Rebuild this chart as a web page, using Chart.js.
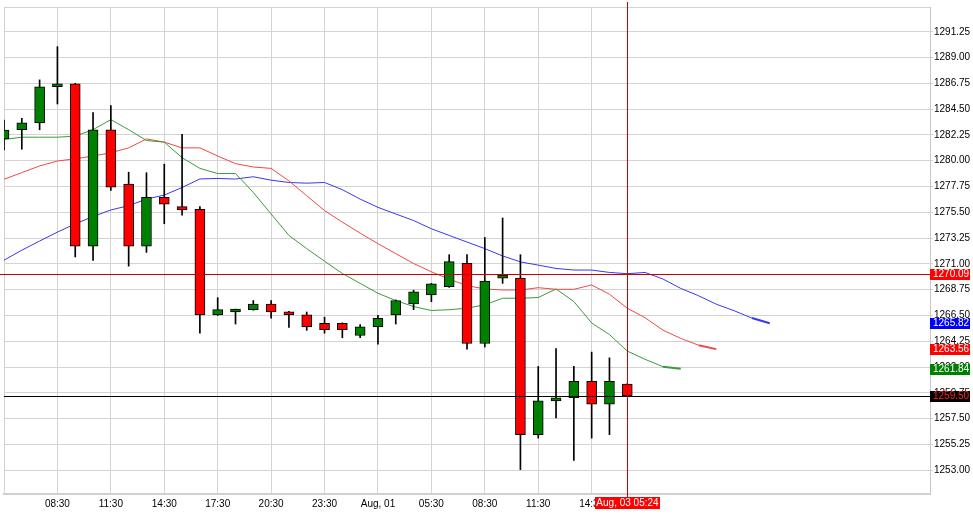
<!DOCTYPE html>
<html>
<head>
<meta charset="utf-8">
<script src="https://cdn.jsdelivr.net/npm/chart.js@4.4.0/dist/chart.umd.min.js"></script>
<style>
  html, body { margin: 0; padding: 0; background: #fff; }
  #wrap { width: 973px; height: 524px; }
</style>
</head>
<body>
<div id="wrap"><canvas id="chart" width="973" height="524"></canvas></div>
<script>
// hourly candles, then empty slots where the moving averages run ahead
const times = ['05:30', '06:30', '07:30', '08:30', '09:30', '10:30', '11:30', '12:30', '13:30', '14:30',
  '15:30', '16:30', '17:30', '18:30', '19:30', '20:30', '21:30', '22:30', '23:30', '00:30',
  '01:30', 'Aug, 01', '03:30', '04:30', '05:30', '06:30', '07:30', '08:30', '09:30', '10:30',
  '11:30', '12:30', '13:30', '14:30', '15:30', '16:30'];
const futureSlots = 17;

const opens = [1281.90, 1282.70, 1283.30, 1286.45, 1286.70, 1272.55, 1282.70, 1277.95, 1272.55, 1276.80,
  1276.00, 1275.75, 1266.55, 1266.80, 1267.00, 1267.50, 1266.80, 1266.55, 1265.80, 1265.80,
  1264.75, 1265.50, 1266.55, 1267.50, 1268.30, 1269.00, 1271.05, 1264.05, 1269.75, 1269.75,
  1256.10, 1259.05, 1259.30, 1260.75, 1258.75, 1260.50];
const highs = [1283.55, 1283.70, 1287.05, 1289.95, 1286.75, 1284.20, 1284.80, 1279.00, 1278.95, 1279.70,
  1282.30, 1276.00, 1268.05, 1267.05, 1267.80, 1267.80, 1266.85, 1266.80, 1266.35, 1265.85,
  1265.70, 1266.50, 1267.85, 1268.70, 1269.30, 1271.80, 1271.80, 1273.30, 1275.00, 1271.80,
  1262.05, 1263.60, 1262.05, 1263.30, 1262.80, 1260.55];
const lows = [1280.95, 1281.00, 1282.70, 1284.95, 1271.60, 1271.30, 1277.40, 1270.80, 1272.00, 1274.50,
  1275.25, 1264.95, 1266.50, 1265.75, 1266.95, 1266.25, 1265.45, 1265.20, 1264.95, 1264.55,
  1264.55, 1264.00, 1265.75, 1267.00, 1267.70, 1268.95, 1263.55, 1263.75, 1269.30, 1253.05,
  1255.80, 1257.55, 1253.85, 1255.80, 1256.10, 1259.50];
const closes = [1282.68, 1283.30, 1286.45, 1286.70, 1272.55, 1282.70, 1277.70, 1272.55, 1276.80, 1276.20,
  1275.70, 1266.55, 1267.00, 1267.00, 1267.50, 1266.80, 1266.55, 1265.50, 1265.25, 1265.25,
  1265.50, 1266.25, 1267.80, 1268.55, 1269.25, 1271.20, 1264.05, 1269.50, 1270.00, 1256.10,
  1259.05, 1259.30, 1260.75, 1258.75, 1260.75, 1259.50];

// moving averages (shifted forward past the last candle)
const maFast = [1281.85, 1282.05, 1282.05, 1282.05, 1282.14, 1282.71, 1283.58, 1282.71, 1281.76, 1281.62,
  1280.26, 1279.33, 1278.88, 1278.88, 1277.23, 1275.35, 1273.48, 1272.33, 1271.23, 1270.16,
  1269.30, 1268.43, 1267.80, 1267.28, 1266.93, 1267.00, 1267.13, 1267.43, 1268.00, 1268.00,
  1268.06, 1268.81, 1267.71, 1265.84, 1264.83, 1263.39, 1262.67, 1262.03, 1261.84];
const maMid = [1278.38, 1278.96, 1279.54, 1279.97, 1280.17, 1280.41, 1280.69, 1281.12, 1281.90, 1281.62,
  1281.12, 1281.12, 1280.41, 1279.74, 1279.45, 1279.33, 1278.24, 1276.94, 1275.65, 1274.64,
  1273.68, 1272.76, 1271.89, 1271.03, 1270.31, 1269.66, 1269.10, 1268.81, 1268.72, 1268.72,
  1268.92, 1268.78, 1268.78, 1269.16, 1268.35, 1267.13, 1266.30, 1265.22, 1264.50, 1263.90,
  1263.56];
const maSlow = [1271.32, 1272.19, 1272.99, 1273.77, 1274.49, 1275.13, 1275.70, 1276.08, 1276.65, 1277.00,
  1277.66, 1278.41, 1278.45, 1278.40, 1278.60, 1278.30, 1278.10, 1278.04, 1278.10, 1277.47,
  1276.65, 1275.93, 1275.35, 1274.78, 1274.06, 1273.48, 1272.90, 1272.33, 1271.69, 1271.17,
  1270.89, 1270.60, 1270.46, 1270.46, 1270.25, 1270.14, 1270.25, 1269.68, 1268.86, 1268.22,
  1267.48, 1266.91, 1266.27, 1265.82];

const priceTicks = [1253.00, 1255.25, 1257.50, 1259.75, 1262.00, 1264.25, 1266.50, 1268.75, 1271.00,
  1273.25, 1275.50, 1277.75, 1280.00, 1282.25, 1284.50, 1286.75, 1289.00, 1291.25];
const yMin = 1250.92;
const yMax = 1293.41;

const crossIndex = 35;
const crossPrice = 1270.09;
const crossLabel = 'Aug, 03 05:24';
const lastPrice = 1259.50;
const fastLast = 1261.84;
const midLast = 1263.56;
const slowLast = 1265.82;

const labels = times.concat(Array(futureSlots).fill(''));
const bodies = opens.map((o, i) => [o, closes[i]]);
const wicks = lows.map((l, i) => [l, highs[i]]);
const bodyColors = opens.map((o, i) => closes[i] >= o ? '#008000' : '#ff0000');

Chart.defaults.font.family = "'Liberation Sans', Arial, sans-serif";
Chart.defaults.font.size = 10;
Chart.defaults.color = '#000';

const gridGray = '#d3d3d3';

// the last segment of each average is drawn a bit heavier
function maLine(data, color) {
  return {
    type: 'line',
    data: data,
    borderColor: color,
    borderWidth: 1,
    pointRadius: 0,
    tension: 0,
    order: 5,
    segment: {
      borderWidth: ctx => ctx.p1DataIndex === data.length - 1 ? 2 : 1
    }
  };
}

const markers = {
  id: 'markers',
  afterDatasetsDraw(chart) {
    const ctx = chart.ctx;
    const area = chart.chartArea;
    const x = chart.scales.x;
    const y = chart.scales.y;
    ctx.save();
    // last price line
    let py = Math.round(y.getPixelForValue(lastPrice)) + 0.5;
    ctx.strokeStyle = '#000';
    ctx.lineWidth = 1;
    ctx.beginPath();
    ctx.moveTo(area.left, py);
    ctx.lineTo(area.right, py);
    ctx.stroke();
    // crosshair
    ctx.strokeStyle = '#cc0000';
    py = Math.round(y.getPixelForValue(crossPrice)) + 0.5;
    ctx.beginPath();
    ctx.moveTo(0, py);
    ctx.lineTo(area.right, py);
    ctx.stroke();
    const px = Math.round(x.getPixelForValue(crossIndex)) + 0.5;
    ctx.beginPath();
    ctx.moveTo(px, 2);
    ctx.lineTo(px, area.bottom + 3);
    ctx.stroke();
    ctx.restore();
  },
  afterDraw(chart) {
    const ctx = chart.ctx;
    const area = chart.chartArea;
    const x = chart.scales.x;
    const y = chart.scales.y;
    const boxes = [
      [crossPrice, '#ff0000', '#fff'],
      [slowLast, '#0000ff', '#fff'],
      [midLast, '#ff0000', '#fff'],
      [fastLast, '#008000', '#fff'],
      [lastPrice, '#000', '#ff2020']
    ];
    ctx.save();
    ctx.font = "10px 'Liberation Sans', Arial, sans-serif";
    ctx.textBaseline = 'middle';
    boxes.forEach(b => {
      const cy = Math.round(y.getPixelForValue(b[0]));
      ctx.fillStyle = b[1];
      ctx.fillRect(area.right, cy - 5, 40, 11);
      ctx.fillStyle = b[2];
      ctx.textAlign = 'left';
      ctx.fillText(b[0].toFixed(2), area.right + 3, cy + 0.5);
    });
    // time label under crosshair
    const px = Math.round(x.getPixelForValue(crossIndex));
    ctx.fillStyle = '#ff0000';
    ctx.fillRect(px - 32, area.bottom + 3, 65, 12);
    ctx.fillStyle = '#fff';
    ctx.textAlign = 'center';
    ctx.fillText(crossLabel, px + 0.5, area.bottom + 9.5);
    ctx.restore();
  }
};

new Chart(document.getElementById('chart'), {
  type: 'bar',
  data: {
    labels: labels,
    datasets: [
      maLine(maFast, '#3c9a3c'),
      maLine(maMid, '#f04848'),
      maLine(maSlow, '#3838f0'),
      {
        data: wicks,
        backgroundColor: '#000',
        barThickness: 1,
        grouped: false,
        order: 3
      },
      {
        data: bodies,
        backgroundColor: bodyColors,
        borderColor: '#000',
        borderWidth: 1,
        borderSkipped: false,
        barThickness: 10,
        grouped: false,
        minBarLength: 3,
        order: 2
      }
    ]
  },
  options: {
    responsive: false,
    animation: false,
    layout: { padding: { left: 3.6, top: 3, right: 0, bottom: 0 } },
    plugins: {
      legend: { display: false },
      tooltip: { enabled: false }
    },
    scales: {
      x: {
        type: 'category',
        offset: false,
        grid: {
          offset: false,
          drawTicks: false,
          color: ctx => (ctx.index % 3 === 0 && ctx.index <= 33) ? gridGray : 'rgba(0,0,0,0)'
        },
        border: { color: '#d0d0d0', width: 2 },
        ticks: {
          autoSkip: false,
          maxRotation: 0,
          padding: 4,
          callback: function (v, i) {
            const l = this.getLabelForValue(v);
            return (i % 3 === 0 && i > 0) ? l : '';
          }
        },
        afterFit: s => { s.height = 30; }
      },
      y: {
        position: 'right',
        min: yMin,
        max: yMax,
        afterBuildTicks: s => {
          s.ticks = priceTicks.map(v => ({ value: v })).concat([{ value: yMax }]);
        },
        grid: {
          color: gridGray,
          tickLength: 3,
          tickColor: ctx => ctx.tick && ctx.tick.value === yMax ? 'rgba(0,0,0,0)' : gridGray
        },
        border: { color: '#c8c8c8' },
        ticks: {
          padding: 1,
          callback: v => v === yMax ? '' : v.toFixed(2)
        },
        afterFit: s => { s.width = 43; }
      }
    }
  },
  plugins: [markers]
});
</script>
</body>
</html>
